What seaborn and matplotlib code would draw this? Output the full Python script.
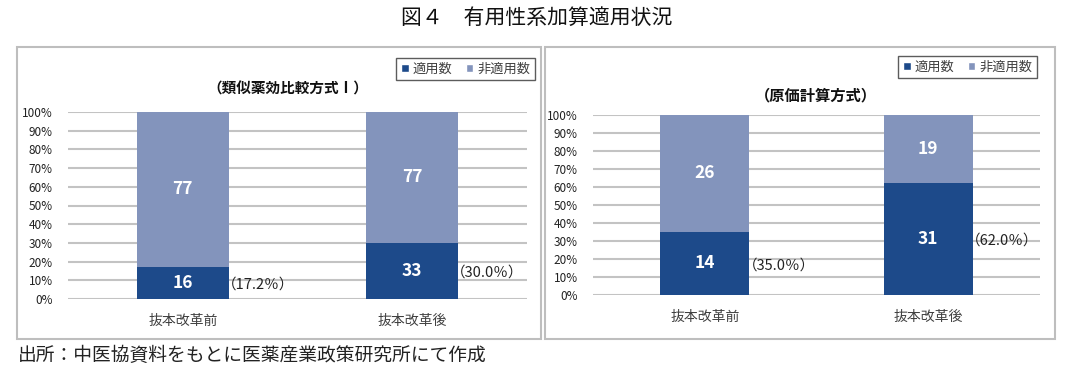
import pandas as pd
import matplotlib.pyplot as plt
import seaborn as sns
from matplotlib.patches import Patch, Rectangle
import matplotlib.ticker as mtick

# data
categorias = ['抜本改革前', '抜本改革後']
aplic_esq = [16, 33]
nao_aplic_esq = [77, 77]
aplic_dir = [14, 31]
nao_aplic_dir = [26, 19]

titulo = '図４　有用性系加算適用状況'
sub_esq = '（類似薬効比較方式Ⅰ）'
sub_dir = '（原価計算方式）'
rodape = '出所：中医協資料をもとに医薬産業政策研究所にて作成'
leg_labels = ['適用数', '非適用数']

azul_escuro = '#1D4A8A'
azul_claro = '#8394BC'
cinza_grade = '#C3C3C3'
cinza_borda = '#BEBEBE'
texto = '#404040'

sns.set_theme(style='white')
plt.rcParams['font.family'] = ['Noto Sans CJK JP', 'DejaVu Sans']

fig = plt.figure(figsize=(10.74, 3.77), dpi=100)

# caixas dos paineis
fig.add_artist(Rectangle((17 / 1074, 1 - 339 / 377), 524 / 1074, 292 / 377,
                         transform=fig.transFigure, fill=False, edgecolor=cinza_borda, linewidth=1.5))
fig.add_artist(Rectangle((545 / 1074, 1 - 339 / 377), 510 / 1074, 292 / 377,
                         transform=fig.transFigure, fill=False, edgecolor=cinza_borda, linewidth=1.5))


def painel(rect, aplic, nao_aplic, subtitulo, sub_pos, leg_pos, sub_size):
    ax = fig.add_axes(rect)
    df = pd.DataFrame({'cat': categorias, 'aplic': aplic, 'nao': nao_aplic})
    df['total'] = df['aplic'] + df['nao']
    df['pct'] = df['aplic'] / df['total'] * 100
    df['cheio'] = 100.0
    sns.barplot(data=df, x='cat', y='cheio', color=azul_claro, width=0.4, saturation=1,
                linewidth=0, ax=ax)
    sns.barplot(data=df, x='cat', y='pct', color=azul_escuro, width=0.4, saturation=1,
                linewidth=0, ax=ax)
    ax.set_ylim(0, 100)
    ax.set_xlim(-0.5, 1.5)
    ax.set_yticks(range(0, 101, 10))
    ax.yaxis.set_major_formatter(mtick.PercentFormatter(decimals=0))
    ax.grid(axis='y', color=cinza_grade, linewidth=1.5)
    ax.set_axisbelow(True)
    for s in ax.spines.values():
        s.set_visible(False)
    ax.tick_params(axis='y', labelsize=8.5, colors='#222222', length=0, pad=11)
    ax.tick_params(axis='x', labelsize=10, colors=texto, length=0, pad=11)
    ax.set_xlabel('')
    ax.set_ylabel('')
    for i, row in df.iterrows():
        ax.text(i, row['pct'] / 2, str(row['aplic']), ha='center', va='center',
                color='white', fontsize=12.5, fontweight='bold')
        ax.text(i, row['pct'] + (100 - row['pct']) / 2, str(row['nao']), ha='center', va='center',
                color='white', fontsize=12.5, fontweight='bold')
        ax.text(i + 0.17, row['pct'] / 2 - 1, '（%.1f％）' % row['pct'], ha='left', va='center',
                color='#222222', fontsize=10.5)
    fig.text(sub_pos[0], sub_pos[1], subtitulo, ha='center', va='center',
             fontsize=sub_size, fontweight='bold', color='#111111')
    handles = [Patch(facecolor=azul_escuro), Patch(facecolor=azul_claro)]
    leg = fig.legend(handles, leg_labels, loc='upper right', bbox_to_anchor=leg_pos, ncol=2,
                     fontsize=9.5, frameon=True, fancybox=False, handlelength=0.6, handleheight=0.6,
                     handletextpad=0.3, columnspacing=1.0, borderpad=0.35, borderaxespad=0,
                     labelcolor=texto)
    leg.get_frame().set_edgecolor('#333333')
    leg.get_frame().set_linewidth(1.0)
    return ax


painel([68 / 1074, 1 - 299 / 377, 459 / 1074, 187 / 377], aplic_esq, nao_aplic_esq,
       sub_esq, (288 / 1074, 1 - 89 / 377), (535 / 1074, 1 - 58 / 377), 10.5)
painel([593 / 1074, 1 - 295 / 377, 447 / 1074, 180 / 377], aplic_dir, nao_aplic_dir,
       sub_dir, (816 / 1074, 1 - 95 / 377), (1037 / 1074, 1 - 56 / 377), 11)

fig.text(0.5, 1 - 18 / 377, titulo, ha='center', va='center', fontsize=15, color='#111111')
fig.text(18 / 1074, 1 - 355 / 377, rodape, ha='left', va='center', fontsize=13.5, color='#222222')

plt.savefig('out.png', dpi=100)
